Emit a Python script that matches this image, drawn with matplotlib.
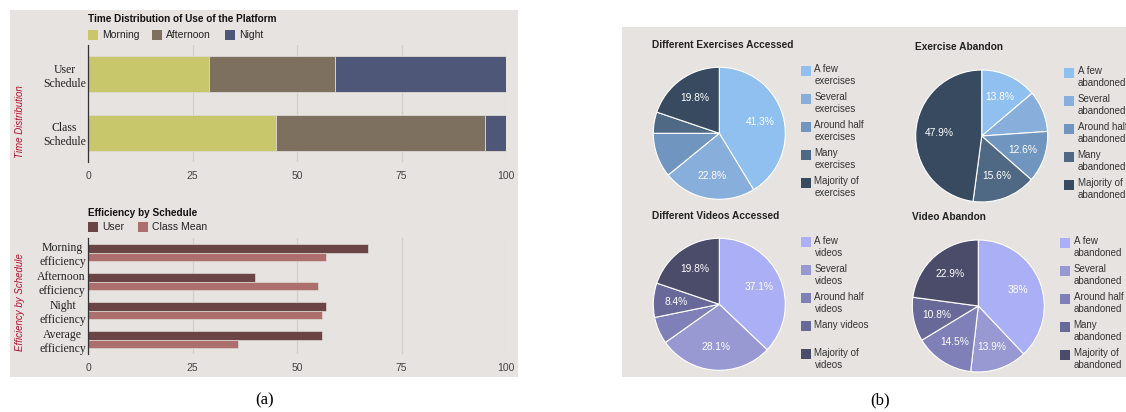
import matplotlib
matplotlib.use("Agg")
import matplotlib.pyplot as plt
from matplotlib.patches import Rectangle
import numpy as np

# ---------------- data ----------------
time_categories = ["User\nSchedule", "Class\nSchedule"]
time_series = ["Morning", "Afternoon", "Night"]
time_morning = [29, 45]
time_afternoon = [30, 50]
time_night = [41, 5]
time_colors = ["#c9c76c", "#7d705f", "#4f5779"]

eff_categories = ["Morning\nefficiency", "Afternoon\nefficiency", "Night\nefficiency", "Average\nefficiency"]
eff_series = ["User", "Class Mean"]
eff_user = [67, 40, 57, 56]
eff_class = [57, 55, 56, 36]
eff_colors = ["#6b4445", "#ad6e6e"]

x_ticks = [0, 25, 50, 75, 100]

ex_acc_title = "Different Exercises Accessed"
ex_acc_labels = ["A few\nexercises", "Several\nexercises", "Around half\nexercises", "Many\nexercises", "Majority of\nexercises"]
ex_acc_values = [41.3, 22.8, 10.9, 5.2, 19.8]
ex_acc_show = [True, True, False, False, True]

ex_ab_title = "Exercise Abandon"
ex_ab_labels = ["A few\nabandoned", "Several\nabandoned", "Around half\nabandoned", "Many\nabandoned", "Majority of\nabandoned"]
ex_ab_values = [13.8, 10.1, 12.6, 15.6, 47.9]
ex_ab_show = [True, False, True, True, True]

vid_acc_title = "Different Videos Accessed"
vid_acc_labels = ["A few\nvideos", "Several\nvideos", "Around half\nvideos", "Many videos", "Majority of\nvideos"]
vid_acc_values = [37.1, 28.1, 6.6, 8.4, 19.8]
vid_acc_show = [True, True, False, True, True]

vid_ab_title = "Video Abandon"
vid_ab_labels = ["A few\nabandoned", "Several\nabandoned", "Around half\nabandoned", "Many\nabandoned", "Majority of\nabandoned"]
vid_ab_values = [38, 13.9, 14.5, 10.8, 22.9]
vid_ab_show = [True, True, True, True, True]

ex_colors = ["#90c0f0", "#88aedb", "#7096bf", "#4f6884", "#374a5f"]
vid_colors = ["#abaff5", "#9898d2", "#8080b8", "#686899", "#4b4b6a"]

# ---------------- layout helpers ----------------
W, H = 1126, 412
BG = "#e7e3e0"
fig = plt.figure(figsize=(W / 100, H / 100), dpi=100)
fig.patch.set_facecolor("white")
SANS = "Liberation Sans"
SERIF = "Liberation Serif"


def rect(x0, y0, x1, y1):
    return [x0 / W, 1 - y1 / H, (x1 - x0) / W, (y1 - y0) / H]


def fx(x):
    return x / W


def fy(y):
    return 1 - y / H


def fig_square(x, y, s, color):
    fig.patches.append(Rectangle((fx(x), fy(y + s)), s / W, s / H, transform=fig.transFigure,
                                 facecolor=color, edgecolor="none", zorder=3))


# panel backgrounds
fig.patches.append(Rectangle((fx(10), fy(377)), 508 / W, 367 / H, transform=fig.transFigure,
                             facecolor=BG, edgecolor="none", zorder=-10))
fig.patches.append(Rectangle((fx(622), fy(377)), 504 / W, 350 / H, transform=fig.transFigure,
                             facecolor=BG, edgecolor="none", zorder=-10))


def style_bar_axes(ax):
    ax.set_facecolor("none")
    for s in ["top", "right", "bottom"]:
        ax.spines[s].set_visible(False)
    ax.spines["left"].set_color("#333333")
    ax.spines["left"].set_linewidth(0.9)
    ax.spines["left"].set_zorder(5)
    ax.set_xlim(0, 100)
    ax.set_xticks(x_ticks)
    ax.xaxis.grid(True, color="#d2cecb", linewidth=0.9)
    ax.set_axisbelow(True)
    ax.tick_params(axis="x", length=0, pad=6.5, labelsize=7.5, labelcolor="#444444")
    ax.tick_params(axis="y", length=0, pad=1.5)
    for lab in ax.get_xticklabels():
        lab.set_fontfamily(SANS)
    for lab in ax.get_yticklabels():
        lab.set_fontfamily(SERIF)
        lab.set_fontsize(8.5)
        lab.set_color("#222222")
        lab.set_multialignment("center")


# ---------------- top bar chart ----------------
ax1 = fig.add_axes(rect(88, 45, 506, 162))
y1 = np.arange(len(time_categories))
left = np.zeros(len(time_categories))
for vals, col in zip([time_morning, time_afternoon, time_night], time_colors):
    ax1.barh(y1, vals, left=left, height=0.62, color=col, edgecolor="#ddd8d2", linewidth=0.6)
    left = left + np.array(vals)
ax1.set_ylim(len(time_categories) - 0.5, -0.5)
ax1.set_yticks(y1)
ax1.set_yticklabels(time_categories)
style_bar_axes(ax1)
fig.text(fx(88), fy(19), "Time Distribution of Use of the Platform", fontsize=7.2, fontweight="bold",
         family=SANS, va="center", ha="left", color="#111111")
leg_x = [88, 152, 225]
for name, col, x in zip(time_series, time_colors, leg_x):
    fig_square(x, 30, 10, col)
    fig.text(fx(x + 14), fy(35.5), name, fontsize=7.5, family=SANS, va="center", ha="left", color="#222222")
fig.text(fx(20), fy(122), "Time Distribution", rotation=90, fontsize=7, style="italic", family=SANS,
         color="#b2122f", va="center", ha="center")

# ---------------- bottom bar chart ----------------
ax2 = fig.add_axes(rect(88, 238, 506, 354))
y2 = np.arange(len(eff_categories))
bh = 0.31
ax2.barh(y2 - bh / 2, eff_user, height=bh, color=eff_colors[0], edgecolor="#ddd8d2", linewidth=0.5)
ax2.barh(y2 + bh / 2, eff_class, height=bh, color=eff_colors[1], edgecolor="#ddd8d2", linewidth=0.5)
ax2.set_ylim(len(eff_categories) - 0.5, -0.5)
ax2.set_yticks(y2)
ax2.set_yticklabels(eff_categories)
style_bar_axes(ax2)
fig.text(fx(88), fy(213), "Efficiency by Schedule", fontsize=7.2, fontweight="bold",
         family=SANS, va="center", ha="left", color="#111111")
leg_x2 = [88, 138]
for name, col, x in zip(eff_series, eff_colors, leg_x2):
    fig_square(x, 222, 10, col)
    fig.text(fx(x + 14), fy(227.5), name, fontsize=7.5, family=SANS, va="center", ha="left", color="#222222")
fig.text(fx(20), fy(302), "Efficiency by Schedule", rotation=90, fontsize=7, style="italic", family=SANS,
         color="#b2122f", va="center", ha="center")


# ---------------- pies ----------------
def draw_pie(cx, cy, r, values, colors, show, title, tx, ty, labels, lx, ly):
    ax = fig.add_axes(rect(cx - r, cy - r, cx + r, cy + r))
    wedges, _ = ax.pie(values, colors=colors, startangle=90, counterclock=False, radius=1,
                       wedgeprops=dict(edgecolor="white", linewidth=0.8))
    ax.set_xlim(-1, 1)
    ax.set_ylim(-1, 1)
    ax.axis("off")
    for w, v, s in zip(wedges, values, show):
        if not s:
            continue
        mid = np.deg2rad((w.theta1 + w.theta2) / 2)
        ax.text(0.65 * np.cos(mid), 0.65 * np.sin(mid), f"{v:g}%", color="white", fontsize=7.4,
                family=SANS, ha="center", va="center")
    fig.text(fx(tx), fy(ty), title, fontsize=7.3, fontweight="bold", family=SANS, va="center",
             ha="left", color="#222222")
    for i, (lab, col) in enumerate(zip(labels, colors)):
        yy = ly + 28 * i
        fig_square(lx, yy - 4.5, 9.5, col)
        fig.text(fx(lx + 13.5), fy(yy - 6), lab, fontsize=7, family=SANS, va="top", ha="left",
                 color="#333333", linespacing=1.25)


draw_pie(719.3, 133.3, 66, ex_acc_values, ex_colors, ex_acc_show, ex_acc_title, 652, 45,
         ex_acc_labels, 801, 70.5)
draw_pie(981.7, 136, 66, ex_ab_values, ex_colors, ex_ab_show, ex_ab_title, 915, 47,
         ex_ab_labels, 1064, 72.5)
draw_pie(719.3, 304.3, 66, vid_acc_values, vid_colors, vid_acc_show, vid_acc_title, 652, 215.5,
         vid_acc_labels, 801, 241.5)
draw_pie(978.3, 306, 66, vid_ab_values, vid_colors, vid_ab_show, vid_ab_title, 911.7, 217,
         vid_ab_labels, 1060, 242.5)

# captions
fig.text(fx(265), fy(400), "(a)", fontsize=12, family=SERIF, ha="center", va="center")
fig.text(fx(880), fy(400), "(b)", fontsize=12, family=SERIF, ha="center", va="center")

fig.savefig("out.png", dpi=100, facecolor="white")
